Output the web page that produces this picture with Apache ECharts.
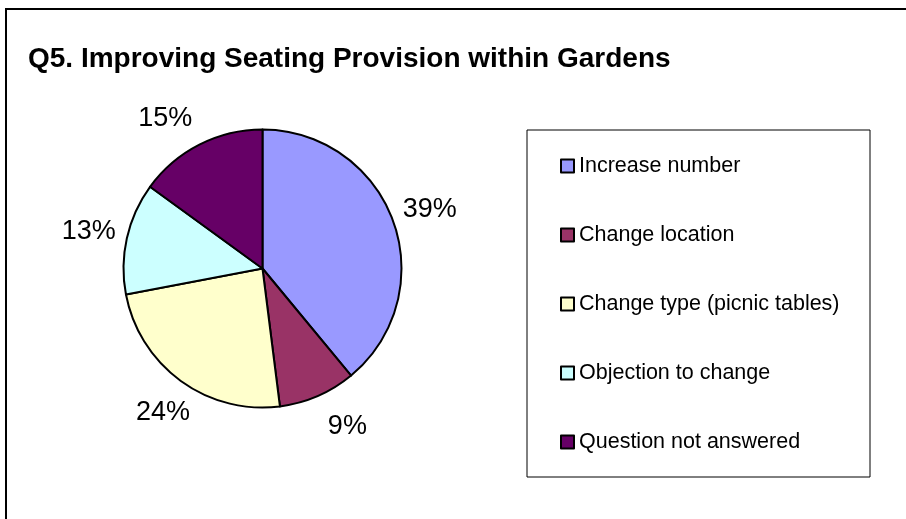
<!DOCTYPE html>
<html>
<head>
<meta charset="utf-8">
<script src="https://cdn.jsdelivr.net/npm/echarts@6/dist/echarts.min.js"></script>
<style>
  html, body { margin: 0; padding: 0; background: #fff; }
  #chart { width: 906px; height: 519px; }
</style>
</head>
<body>
<div id="chart"></div>
<script>
// 图表数据
const categories = ['Increase number', 'Change location', 'Change type (picnic tables)', 'Objection to change', 'Question not answered'];
const percents = [39, 9, 24, 13, 15];
const colors = ['#9999FF', '#993366', '#FFFFCC', '#CCFFFF', '#660066'];

const font = '"Liberation Sans", Arial, sans-serif';
const center = [262.5, 268.5];
const r = 139;
// 标签微调 (Excel 的标签位置和 ECharts 略有不同)
const labelNudge = [[-3, 2], [13, -8], [7, -2], [3, 3], [-15, 11]];

const pieData = categories.map((name, i) => ({
  name: name,
  value: percents[i],
  itemStyle: { color: colors[i] }
}));

const chart = echarts.init(document.getElementById('chart'), null, { renderer: 'canvas' });

const option = {
  animation: false,
  backgroundColor: '#fff',
  title: {
    text: 'Q5. Improving Seating Provision within Gardens',
    left: 28,
    top: 45,
    padding: 0,
    textStyle: { fontFamily: font, fontSize: 28, fontWeight: 'bold', color: '#000' }
  },
  graphic: [
    // 外框
    { type: 'rect', shape: { x: 6, y: 9, width: 1000, height: 1000 },
      style: { fill: 'none', stroke: '#000', lineWidth: 2 }, silent: true },
    // 图例框
    { type: 'rect', shape: { x: 527, y: 130, width: 343, height: 347 },
      style: { fill: '#fff', stroke: '#000', lineWidth: 1 }, silent: true, z: -1 }
  ],
  legend: {
    orient: 'vertical',
    left: 560,
    top: 155,
    padding: 0,
    itemGap: 47,
    itemWidth: 13,
    itemHeight: 13,
    icon: 'rect',
    selectedMode: false,
    data: categories,
    textStyle: { fontFamily: font, fontSize: 21.5, color: '#000' }
  },
  series: [
    {
      type: 'pie',
      center: center,
      radius: r,
      startAngle: 90,
      clockwise: true,
      silent: true,
      label: { show: false },
      labelLine: { show: false },
      itemStyle: { borderColor: '#000', borderWidth: 2 },
      data: pieData
    },
    {
      // 透明外圈，只用来放百分比标签
      type: 'pie',
      center: center,
      radius: [r, r + 78],
      startAngle: 90,
      clockwise: true,
      silent: true,
      itemStyle: { color: 'rgba(0,0,0,0)', borderWidth: 0 },
      label: {
        show: true,
        position: 'inside',
        formatter: '{c}%',
        fontFamily: font,
        fontSize: 27,
        color: '#000'
      },
      labelLine: { show: false },
      data: categories.map((name, i) => ({
        name: name,
        value: percents[i],
        label: { offset: labelNudge[i] }
      }))
    }
  ]
};

chart.setOption(option);
</script>
</body>
</html>
